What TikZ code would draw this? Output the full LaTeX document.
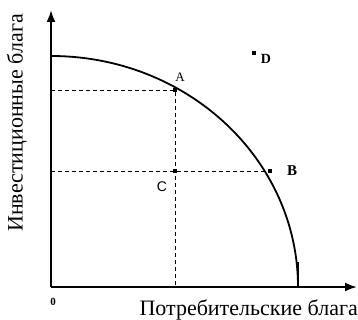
\documentclass[tikz,border=0pt]{standalone}
\usepackage{fontspec}
\setmainfont{Liberation Serif}
\setsansfont{Liberation Sans}
\usetikzlibrary{arrows.meta}
\begin{document}
\begin{tikzpicture}[x=1pt,y=-1pt,
  axis/.style={line width=2pt,-{Latex[length=12pt,width=9pt]}},
  guide/.style={line width=0.8pt,dash pattern=on 4pt off 3pt},
  pt/.style={fill=black,inner sep=0pt,minimum size=4.5pt,rectangle},
  lbl/.style={inner sep=0pt,font=\fontsize{13}{14}\selectfont},
  ax/.style={inner sep=0pt,font=\fontsize{22}{24}\selectfont}]
\useasboundingbox (0,0) rectangle (358,320);
\coordinate (O) at (51,287);
\coordinate (ytop) at (51,10);
\coordinate (xend) at (357,287);
\draw[axis] (O) -- (ytop);
\draw[axis] (O) -- (xend);
\draw[line width=1.8pt] (51,56) arc[start angle=90,end angle=0,x radius=247,y radius=-231];
\draw[line width=2.6pt] (298,262) -- (298,287);
\node[pt] (A) at (175,90) {};
\node[pt] (B) at (270,171) {};
\node[pt,minimum size=3.5pt] (C) at (175,171) {};
\node[pt,minimum size=3.5pt] (D) at (254,53) {};
\coordinate (ya) at (51,90);
\coordinate (yb) at (51,171);
\coordinate (xa) at (175,287);
\draw[guide] (ya) -- (A);
\draw[guide] (yb) -- (B);
\draw[guide] (A) -- (xa);
\node[lbl] (la) at (180,77) {A};
\node[lbl,font=\fontsize{15}{16}\selectfont\bfseries] (lb) at (292,171) {B};
\node[lbl,font=\fontsize{14}{15}\selectfont\sffamily] (lc) at (162,187) {C};
\node[lbl,font=\fontsize{14}{15}\selectfont\bfseries] (ld) at (266,59) {D};
\node[lbl,font=\fontsize{11}{12}\selectfont\bfseries] (l0) at (53,302) {0};
\node[ax,anchor=south east] (xl) at (358,320) {Потребительские блага};
\node[ax,rotate=90] (yl) at (17,123) {Инвестиционные блага};
\end{tikzpicture}
\end{document}
